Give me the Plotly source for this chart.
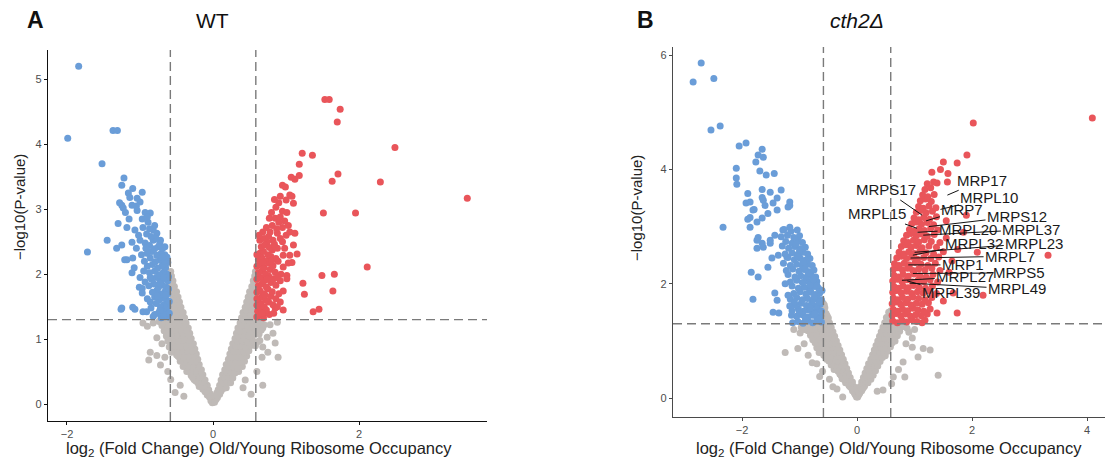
import plotly.graph_objects as go

# ---------------- Panel A (WT) ----------------
A_grey_neg = [(-0.01,0.02),(-0.03,0.05),(-0.02,0.09),(-0.05,0.11),(-0.04,0.16),(-0.08,0.14),(-0.11,0.19),(-0.06,0.22),(-0.1,0.24),(-0.14,0.23),
(-0.08,0.29),(-0.13,0.31),(-0.17,0.3),(-0.21,0.33),(-0.11,0.37),(-0.16,0.39),(-0.21,0.4),(-0.26,0.38),(-0.14,0.45),(-0.19,0.47),(-0.25,0.46),(-0.3,0.44),
(-0.16,0.53),(-0.22,0.55),(-0.28,0.54),(-0.34,0.52),(-0.19,0.61),(-0.25,0.63),(-0.31,0.62),(-0.38,0.6),(-0.21,0.69),(-0.28,0.71),(-0.35,0.7),(-0.42,0.68),(-0.47,0.73),
(-0.23,0.77),(-0.3,0.79),(-0.37,0.78),(-0.44,0.8),(-0.5,0.76),(-0.25,0.85),(-0.32,0.87),(-0.39,0.86),(-0.46,0.88),(-0.53,0.84),(-0.27,0.93),(-0.34,0.95),(-0.41,0.94),(-0.48,0.96),(-0.56,0.92),
(-0.3,1.01),(-0.37,1.03),(-0.44,1.02),(-0.51,1.04),(-0.58,1.0),(-0.64,1.05),(-0.32,1.09),(-0.39,1.11),(-0.46,1.1),(-0.53,1.12),(-0.6,1.08),(-0.67,1.13),
(-0.34,1.17),(-0.41,1.19),(-0.48,1.18),(-0.55,1.2),(-0.62,1.16),(-0.7,1.21),(-0.37,1.25),(-0.44,1.27),(-0.51,1.26),(-0.58,1.28),(-0.66,1.24),(-0.74,1.27),(-0.82,1.25),
(-0.39,1.33),(-0.46,1.35),(-0.53,1.34),(-0.57,1.38),(-0.41,1.41),(-0.48,1.43),(-0.55,1.42),(-0.44,1.49),(-0.5,1.51),(-0.56,1.5),(-0.46,1.57),(-0.52,1.59),(-0.57,1.58),
(-0.48,1.65),(-0.54,1.67),(-0.5,1.73),(-0.56,1.75),(-0.53,1.81),(-0.57,1.84),(-0.55,1.9),(-0.57,1.97),(-0.58,2.04),
(-0.86,0.8),(-0.77,0.75),(-0.66,0.72),(-0.55,0.95),(-0.77,1.02),(-0.96,1.25),(-0.45,0.29),(-0.88,0.68),(-0.62,0.5),(-0.58,0.38),(-0.7,0.93),(-0.9,1.2),(-0.52,0.18),(-0.4,0.12),(-0.72,0.6),
(-0.05,0.13),(-0.09,0.2),(-0.12,0.27),(-0.19,0.27),(-0.14,0.34),(-0.2,0.35),(-0.24,0.36),(-0.17,0.42),(-0.23,0.42),(-0.28,0.41),(-0.19,0.5),(-0.25,0.5),(-0.31,0.49),(-0.36,0.5),
(-0.22,0.58),(-0.28,0.58),(-0.35,0.57),(-0.41,0.58),(-0.25,0.66),(-0.32,0.66),(-0.39,0.65),(-0.45,0.66),(-0.27,0.74),(-0.34,0.74),(-0.41,0.73),(-0.48,0.74),
(-0.29,0.82),(-0.36,0.82),(-0.43,0.81),(-0.5,0.82),(-0.57,0.8),(-0.31,0.9),(-0.38,0.9),(-0.45,0.89),(-0.52,0.9),(-0.6,0.88),(-0.33,0.98),(-0.41,0.98),(-0.48,0.97),(-0.55,0.98),(-0.62,0.97),
(-0.35,1.06),(-0.43,1.06),(-0.5,1.05),(-0.57,1.06),(-0.64,1.1),(-0.37,1.14),(-0.45,1.14),(-0.52,1.14),(-0.59,1.14),(-0.66,1.18),(-0.4,1.22),(-0.47,1.22),(-0.55,1.22),(-0.62,1.22),(-0.7,1.24),
(-0.42,1.3),(-0.5,1.3),(-0.56,1.31),(-0.44,1.38),(-0.51,1.39),(-0.46,1.46),(-0.53,1.46),(-0.48,1.54),(-0.54,1.54),(-0.5,1.62),(-0.55,1.62),(-0.52,1.7),(-0.57,1.71),(-0.54,1.78),(-0.56,1.86),(-0.58,1.93),(-0.59,2.0)]

A_grey_pos = [(0.02,0.03),(0.04,0.07),(0.03,0.12),(0.06,0.1),(0.05,0.17),(0.09,0.15),(0.07,0.22),(0.11,0.2),(0.14,0.24),(0.09,0.29),(0.13,0.31),(0.17,0.28),
(0.11,0.37),(0.16,0.39),(0.21,0.36),(0.13,0.45),(0.19,0.47),(0.24,0.44),(0.16,0.53),(0.22,0.55),(0.28,0.52),(0.18,0.61),(0.25,0.63),(0.31,0.6),
(0.21,0.69),(0.28,0.71),(0.34,0.68),(0.23,0.77),(0.3,0.79),(0.37,0.76),(0.42,0.8),(0.25,0.85),(0.32,0.87),(0.39,0.84),(0.45,0.88),(0.27,0.93),(0.34,0.95),(0.41,0.92),(0.48,0.96),
(0.3,1.01),(0.37,1.03),(0.44,1.0),(0.51,1.04),(0.32,1.09),(0.39,1.11),(0.46,1.08),(0.53,1.12),(0.34,1.17),(0.41,1.19),(0.48,1.16),(0.55,1.2),(0.62,1.18),
(0.37,1.25),(0.44,1.27),(0.51,1.24),(0.58,1.28),(0.66,1.26),(0.39,1.33),(0.46,1.35),(0.53,1.32),(0.57,1.4),(0.41,1.41),(0.48,1.43),(0.55,1.46),
(0.44,1.49),(0.5,1.51),(0.56,1.55),(0.46,1.57),(0.52,1.6),(0.57,1.63),(0.48,1.65),(0.54,1.68),(0.5,1.73),(0.56,1.76),(0.53,1.81),(0.57,1.85),(0.55,1.9),(0.57,1.97),(0.58,2.04),
(0.88,1.26),(0.78,1.22),(0.68,1.17),(0.82,1.09),(0.74,1.03),(0.64,0.98),(0.85,0.94),(0.68,0.88),(0.75,0.8),(0.89,0.72),(0.67,0.72),(0.68,0.29),(0.44,0.37),(0.41,0.25),(0.6,0.5),(0.52,0.15),
(0.05,0.14),(0.09,0.19),(0.12,0.26),(0.18,0.25),(0.14,0.33),(0.19,0.34),(0.24,0.33),(0.16,0.41),(0.22,0.41),(0.27,0.4),(0.19,0.49),(0.25,0.49),(0.3,0.48),(0.35,0.5),
(0.22,0.57),(0.28,0.57),(0.34,0.56),(0.4,0.58),(0.24,0.65),(0.31,0.65),(0.37,0.64),(0.43,0.66),(0.26,0.73),(0.33,0.73),(0.4,0.72),(0.46,0.74),
(0.28,0.81),(0.35,0.81),(0.42,0.8),(0.49,0.82),(0.31,0.89),(0.38,0.89),(0.44,0.88),(0.51,0.9),(0.58,0.9),(0.33,0.97),(0.4,0.97),(0.47,0.96),(0.54,0.98),(0.61,0.96),
(0.35,1.05),(0.42,1.05),(0.49,1.04),(0.56,1.06),(0.63,1.08),(0.37,1.13),(0.44,1.13),(0.51,1.12),(0.58,1.14),(0.66,1.14),(0.4,1.21),(0.47,1.21),(0.54,1.2),(0.61,1.22),(0.7,1.22),
(0.42,1.29),(0.49,1.29),(0.55,1.3),(0.44,1.37),(0.51,1.38),(0.46,1.45),(0.53,1.46),(0.48,1.53),(0.54,1.53),(0.5,1.61),(0.55,1.62),(0.52,1.69),(0.57,1.7),(0.54,1.77),(0.56,1.85),(0.58,1.92),(0.59,2.0)]

A_blue = [(-1.84,5.2),(-1.99,4.09),(-1.37,4.21),(-1.31,4.21),(-1.52,3.7),(-1.22,3.48),(-1.25,3.37),(-1.1,3.32),(-0.97,3.26),(-1.16,3.25),(-1.14,3.18),(-1.04,3.17),
(-1.0,3.11),(-1.25,3.06),(-1.11,3.06),(-1.23,3.02),(-1.04,2.98),(-0.93,2.95),(-0.86,2.94),(-0.89,2.8),(-1.3,2.78),(-1.18,2.72),(-1.07,2.68),(-0.96,2.72),(-0.82,2.68),(-0.77,2.63),
(-1.45,2.52),(-1.72,2.34),(-1.32,2.4),(-1.25,2.45),(-1.11,2.49),(-1.0,2.52),(-0.93,2.48),(-0.82,2.52),(-0.73,2.48),(-0.66,2.42),(-1.21,2.22),(-1.1,2.25),(-1.0,1.95),(-0.97,1.78),
(-1.25,1.48),(-1.1,1.49),(-1.07,1.46),(-0.96,1.42),(-0.86,1.57),(-1.18,2.22),(-0.97,1.71),(-1.01,1.8),(-1.11,2.02),(-1.26,1.46),
(-0.62,1.34),(-0.66,1.36),(-0.71,1.33),(-0.64,1.42),(-0.69,1.45),(-0.75,1.4),(-0.8,1.38),(-0.62,1.5),(-0.67,1.53),(-0.72,1.5),(-0.78,1.55),(-0.85,1.48),
(-0.63,1.6),(-0.68,1.63),(-0.74,1.6),(-0.8,1.65),(-0.9,1.62),(-0.62,1.7),(-0.66,1.73),(-0.71,1.69),(-0.77,1.75),(-0.83,1.72),(-0.64,1.8),(-0.69,1.83),(-0.75,1.79),(-0.81,1.85),(-0.88,1.82),
(-0.62,1.9),(-0.67,1.93),(-0.72,1.9),(-0.78,1.95),(-0.84,1.92),(-0.93,1.88),(-0.63,2.0),(-0.68,2.03),(-0.74,1.99),(-0.8,2.05),(-0.87,2.02),(-0.65,2.1),(-0.7,2.13),(-0.76,2.09),(-0.83,2.15),(-0.9,2.12),
(-0.62,2.18),(-0.67,2.2),(-0.73,2.22),(-0.79,2.19),(-0.86,2.25),(-0.94,2.2),(-0.66,2.3),(-0.71,2.32),(-0.77,2.29),(-0.84,2.35),(-0.9,2.32),(-0.69,2.4),(-0.75,2.42),(-0.8,2.39),(-0.87,2.44),
(-0.72,2.52),(-0.78,2.55),(-0.85,2.58),(-0.91,2.62),(-0.8,2.75),(-0.87,2.7),(-0.6,1.4),(-0.6,1.58),(-0.61,1.77),(-0.61,1.96),(-0.63,2.26),(-0.68,1.38),(-0.73,1.44),(-0.76,1.66),(-0.86,1.95),
(-0.92,2.4),(-0.98,2.3),(-1.02,2.6),(-0.97,2.85),(-1.05,2.4),(-0.95,2.05),(-1.08,2.1),(-0.82,1.35),(-0.91,1.42),(-0.73,1.86),(-0.7,2.26),(-1.15,2.85),(-1.2,2.95),(-1.28,3.1),(-1.05,3.05),(-0.9,2.88),(-0.68,1.95),(-0.65,1.68)]

A_red = [(1.53,4.69),(1.59,4.69),(1.74,4.54),(1.7,4.34),(2.49,3.95),(1.22,3.86),(1.36,3.83),(1.18,3.69),(1.71,3.54),(1.63,3.43),(2.29,3.42),(3.48,3.17),(1.07,3.49),(1.12,3.46),(1.18,3.52),
(0.95,3.37),(0.99,3.34),(0.92,3.2),(1.05,3.22),(1.08,3.2),(1.0,3.14),(1.1,3.09),(0.86,3.03),(0.95,2.97),(1.01,2.95),(1.51,2.94),(1.95,2.94),(1.12,2.63),(0.96,2.29),(1.05,2.29),(1.15,2.31),(1.08,2.18),
(2.11,2.11),(1.49,1.98),(1.66,2.0),(1.01,1.98),(1.23,1.86),(1.25,1.69),(1.64,1.74),(0.96,1.74),(1.37,1.42),(1.45,1.46),(0.92,1.57),(0.96,1.45),(0.85,1.48),(0.77,2.86),(0.85,2.86),(0.92,2.88),
(0.81,2.75),(0.95,2.72),(1.03,2.75),(0.68,2.65),(0.78,2.65),(0.88,2.63),(0.64,2.52),(0.74,2.49),(0.82,2.52),(0.92,2.55),(1.03,2.17),(0.96,2.11),(0.92,1.9),(1.01,1.93),
(0.6,1.34),(0.64,1.37),(0.69,1.33),(0.61,1.43),(0.66,1.46),(0.71,1.41),(0.77,1.38),(0.6,1.52),(0.65,1.55),(0.7,1.5),(0.76,1.57),(0.82,1.53),(0.62,1.62),(0.67,1.65),(0.72,1.6),(0.79,1.66),(0.86,1.62),
(0.6,1.72),(0.64,1.75),(0.69,1.7),(0.75,1.77),(0.81,1.73),(0.62,1.82),(0.67,1.85),(0.73,1.8),(0.79,1.87),(0.86,1.83),(0.6,1.92),(0.65,1.95),(0.7,1.9),(0.76,1.97),(0.83,1.93),
(0.62,2.02),(0.67,2.05),(0.72,2.0),(0.78,2.07),(0.85,2.03),(0.6,2.12),(0.65,2.15),(0.7,2.1),(0.76,2.17),(0.82,2.13),(0.89,2.2),(0.62,2.22),(0.67,2.25),(0.73,2.2),(0.79,2.27),(0.86,2.24),
(0.64,2.32),(0.69,2.35),(0.75,2.3),(0.81,2.37),(0.88,2.4),(0.66,2.42),(0.71,2.45),(0.77,2.41),(0.84,2.46),(0.7,2.55),(0.76,2.58),(0.87,2.7),(0.73,2.72),(0.8,2.95),(0.9,3.1),(0.84,3.15),
(0.6,1.62),(0.6,2.3),(0.63,2.6),(0.73,1.45),(0.9,1.7),(0.93,2.0),(0.98,2.4),(1.0,2.6),(0.95,2.5),(0.88,1.95),(0.83,1.4),(0.74,1.92),(0.68,2.18),(0.8,2.2),(1.1,2.45),(1.05,2.65),(0.98,2.82),(0.9,2.8),(0.67,1.4),(0.71,1.68),(0.88,1.5)]

# ---------------- Panel B (cth2Δ) ----------------
B_grey_neg = [(-0.01,0.02),(-0.03,0.06),(-0.05,0.1),(-0.02,0.12),(-0.07,0.15),(-0.1,0.18),(-0.05,0.2),(-0.09,0.24),(-0.14,0.22),(-0.08,0.28),(-0.13,0.3),(-0.18,0.29),(-0.22,0.32),
(-0.12,0.36),(-0.17,0.38),(-0.23,0.37),(-0.28,0.4),(-0.15,0.44),(-0.21,0.46),(-0.27,0.45),(-0.33,0.47),(-0.18,0.52),(-0.24,0.54),(-0.31,0.53),(-0.38,0.55),
(-0.21,0.6),(-0.28,0.62),(-0.35,0.61),(-0.42,0.63),(-0.24,0.68),(-0.31,0.7),(-0.38,0.69),(-0.46,0.71),(-0.53,0.68),(-0.27,0.76),(-0.35,0.78),(-0.42,0.77),(-0.5,0.79),(-0.58,0.75),
(-0.3,0.84),(-0.38,0.86),(-0.46,0.85),(-0.54,0.87),(-0.62,0.83),(-0.33,0.92),(-0.41,0.94),(-0.49,0.93),(-0.57,0.95),(-0.66,0.91),(-0.36,1.0),(-0.44,1.02),(-0.52,1.01),(-0.6,1.03),(-0.69,0.99),(-0.77,1.02),
(-0.39,1.08),(-0.47,1.1),(-0.55,1.09),(-0.63,1.11),(-0.72,1.07),(-0.81,1.1),(-0.42,1.16),(-0.5,1.18),(-0.58,1.17),(-0.66,1.19),(-0.75,1.15),(-0.85,1.18),
(-0.45,1.24),(-0.53,1.26),(-0.61,1.25),(-0.69,1.27),(-0.78,1.23),(-0.88,1.26),(-0.97,1.24),(-0.48,1.32),(-0.55,1.35),(-0.58,1.42),(-0.5,1.4),(-0.54,1.48),(-0.58,1.55),(-0.57,1.63),(-0.59,1.66),(-0.52,1.44),
(-1.25,0.8),(-1.03,0.87),(-0.99,1.14),(-0.87,1.19),(-0.85,0.75),(-0.7,0.6),(-0.6,0.47),(-0.48,0.33),(-0.35,0.16),(-0.25,0.02),(-1.1,1.2),(-0.92,0.95),(-0.78,0.62),(-0.65,0.38),(-0.42,0.2),
(-0.04,0.08),(-0.08,0.13),(-0.07,0.18),(-0.12,0.2),(-0.11,0.26),(-0.16,0.26),(-0.2,0.27),(-0.14,0.33),(-0.2,0.34),(-0.26,0.34),(-0.18,0.41),(-0.24,0.41),(-0.3,0.42),
(-0.21,0.49),(-0.27,0.49),(-0.34,0.5),(-0.4,0.5),(-0.24,0.57),(-0.31,0.57),(-0.38,0.58),(-0.45,0.58),(-0.27,0.65),(-0.34,0.65),(-0.42,0.66),(-0.49,0.65),
(-0.3,0.73),(-0.38,0.73),(-0.46,0.74),(-0.54,0.72),(-0.33,0.81),(-0.41,0.81),(-0.5,0.82),(-0.58,0.8),(-0.66,0.8),(-0.36,0.89),(-0.45,0.89),(-0.53,0.9),(-0.62,0.88),(-0.7,0.88),
(-0.4,0.97),(-0.48,0.97),(-0.56,0.98),(-0.65,0.96),(-0.73,0.97),(-0.43,1.05),(-0.51,1.05),(-0.59,1.06),(-0.68,1.04),(-0.77,1.06),(-0.46,1.13),(-0.54,1.13),(-0.62,1.14),(-0.71,1.12),(-0.8,1.14),
(-0.49,1.21),(-0.57,1.21),(-0.65,1.22),(-0.74,1.2),(-0.83,1.21),(-0.92,1.2),(-0.52,1.29),(-0.6,1.29),(-0.68,1.3),(-0.77,1.29),(-0.86,1.3),(-0.53,1.37),(-0.57,1.5),(-0.56,1.58)]

B_grey_pos = [(0.01,0.02),(0.03,0.06),(0.05,0.1),(0.02,0.12),(0.07,0.15),(0.1,0.17),(0.05,0.2),(0.09,0.23),(0.13,0.21),(0.08,0.28),(0.12,0.3),(0.17,0.27),(0.11,0.36),(0.16,0.38),(0.21,0.35),
(0.14,0.44),(0.2,0.46),(0.26,0.43),(0.17,0.52),(0.23,0.54),(0.3,0.51),(0.2,0.6),(0.27,0.62),(0.34,0.59),(0.24,0.68),(0.31,0.7),(0.38,0.67),(0.44,0.71),
(0.27,0.76),(0.34,0.78),(0.41,0.75),(0.48,0.79),(0.3,0.84),(0.37,0.86),(0.44,0.83),(0.52,0.87),(0.33,0.92),(0.4,0.94),(0.47,0.91),(0.55,0.95),
(0.36,1.0),(0.43,1.02),(0.5,0.99),(0.58,1.03),(0.66,1.0),(0.39,1.08),(0.46,1.1),(0.53,1.07),(0.61,1.11),(0.7,1.09),(0.42,1.16),(0.49,1.18),(0.56,1.15),(0.64,1.19),(0.74,1.17),
(0.45,1.24),(0.52,1.26),(0.59,1.23),(0.67,1.27),(0.78,1.25),(0.87,1.22),(0.48,1.32),(0.55,1.35),(0.51,1.41),(0.57,1.44),(0.55,1.5),(0.59,1.53),(0.58,1.38),
(1.41,0.4),(1.27,0.84),(1.15,0.87),(1.06,0.72),(0.96,0.89),(0.96,1.05),(0.8,0.63),(0.83,0.37),(0.63,0.37),(0.45,0.14),(0.9,1.15),(0.72,0.5),(0.6,0.25),(0.35,0.12),(0.85,0.95),(1.0,1.2),
(0.04,0.08),(0.08,0.13),(0.07,0.18),(0.12,0.2),(0.11,0.26),(0.15,0.26),(0.19,0.27),(0.14,0.33),(0.19,0.34),(0.24,0.33),(0.17,0.41),(0.23,0.41),(0.28,0.4),
(0.2,0.49),(0.26,0.49),(0.32,0.48),(0.23,0.57),(0.3,0.57),(0.36,0.56),(0.26,0.65),(0.33,0.65),(0.4,0.64),(0.29,0.73),(0.36,0.73),(0.43,0.72),(0.49,0.74),
(0.32,0.81),(0.39,0.81),(0.46,0.8),(0.53,0.82),(0.35,0.89),(0.42,0.89),(0.5,0.88),(0.58,0.9),(0.38,0.97),(0.45,0.97),(0.53,0.96),(0.61,0.97),
(0.41,1.05),(0.48,1.05),(0.56,1.04),(0.64,1.06),(0.44,1.13),(0.51,1.13),(0.59,1.12),(0.67,1.14),(0.47,1.21),(0.54,1.21),(0.62,1.2),(0.71,1.22),
(0.5,1.29),(0.57,1.29),(0.64,1.3),(0.73,1.3),(0.53,1.37),(0.55,1.42),(0.57,1.47)]

B_blue = [(-2.71,5.86),(-2.85,5.53),(-2.49,5.59),(-2.54,4.69),(-2.38,4.76),(-2.05,4.41),(-1.93,4.46),(-1.65,4.35),(-1.72,4.25),(-1.63,4.21),(-1.76,4.13),(-2.1,4.02),(-1.69,3.97),(-1.58,3.9),(-1.44,3.93),
(-2.1,3.85),(-2.09,3.74),(-1.65,3.65),(-1.32,3.64),(-1.9,3.58),(-1.51,3.6),(-1.93,3.41),(-1.79,3.3),(-1.63,3.46),(-1.46,3.41),(-1.17,3.37),(-1.86,3.43),(-1.65,3.51),(-1.6,3.37),(-1.39,3.5),
(-2.33,2.99),(-1.86,3.16),(-1.86,2.99),(-1.9,3.13),(-1.81,3.29),(-1.74,3.08),(-1.65,3.15),(-1.55,3.23),(-1.39,3.29),(-1.2,3.34),(-1.17,3.43),
(-1.72,2.81),(-1.65,2.71),(-1.74,2.62),(-1.51,2.71),(-1.43,2.85),(-1.29,2.94),(-1.17,2.99),(-1.04,2.94),(-1.84,2.2),(-1.72,2.12),(-1.81,1.73),(-1.55,2.29),(-1.43,1.84),(-1.39,1.71),(-1.46,1.5),(-1.36,1.49),
(-1.48,2.45),(-1.37,2.5),(-1.22,2.47),(-1.74,2.76),(-1.63,2.64),(-1.51,2.76),
(-0.62,1.33),(-0.69,1.36),(-0.77,1.32),(-0.85,1.35),(-0.94,1.31),(-1.03,1.34),(-1.12,1.32),(-0.63,1.44),(-0.7,1.41),(-0.78,1.45),(-0.86,1.42),(-0.95,1.46),(-1.05,1.43),(-1.14,1.45),
(-0.62,1.52),(-0.68,1.55),(-0.76,1.51),(-0.84,1.54),(-0.93,1.52),(-1.02,1.56),(-1.13,1.53),(-0.64,1.64),(-0.71,1.61),(-0.79,1.65),(-0.88,1.62),(-0.97,1.66),(-1.07,1.63),(-1.17,1.61),
(-0.62,1.72),(-0.69,1.75),(-0.77,1.71),(-0.86,1.74),(-0.95,1.72),(-1.05,1.76),(-1.16,1.73),(-0.65,1.84),(-0.72,1.81),(-0.8,1.85),(-0.89,1.82),(-0.99,1.86),(-1.1,1.83),(-1.2,1.8),
(-0.67,1.92),(-0.75,1.95),(-0.83,1.91),(-0.92,1.94),(-1.02,1.92),(-1.13,1.96),(-0.7,2.04),(-0.77,2.01),(-0.86,2.05),(-0.95,2.02),(-1.05,2.06),(-1.16,2.03),(-1.25,2.0),
(-0.72,2.12),(-0.8,2.15),(-0.89,2.11),(-0.98,2.14),(-1.08,2.12),(-1.2,2.16),(-0.75,2.24),(-0.83,2.21),(-0.92,2.25),(-1.01,2.22),(-1.12,2.26),(-1.23,2.23),
(-0.78,2.32),(-0.86,2.35),(-0.95,2.31),(-1.05,2.34),(-1.16,2.32),(-1.28,2.36),(-0.82,2.44),(-0.9,2.41),(-0.99,2.45),(-1.09,2.42),(-1.2,2.46),
(-0.86,2.52),(-0.94,2.55),(-1.03,2.51),(-1.13,2.54),(-1.25,2.52),(-0.9,2.64),(-0.98,2.61),(-1.08,2.65),(-1.19,2.62),(-1.3,2.66),(-0.95,2.72),(-1.03,2.75),(-1.13,2.71),(-1.24,2.74),
(-1.0,2.84),(-1.1,2.81),(-1.21,2.85),(-1.32,2.82),(-0.66,1.38),(-0.73,1.48),(-0.81,1.58),(-0.66,1.68),(-0.74,1.78),(-0.61,1.88),(-0.7,1.97),(-0.82,1.98),(-0.76,2.08),(-0.85,2.18),
(-0.9,2.28),(-0.94,2.38),(-1.04,2.48),(-1.0,2.58),(-1.06,2.7),(-1.15,2.92),(-1.27,2.95),(-0.9,1.4),(-1.0,1.5),(-1.09,1.68)]

B_red = [(0.62,1.35),(0.7,1.32),(0.78,1.36),(0.86,1.33),(0.95,1.37),(1.04,1.34),(1.13,1.32),(0.61,1.45),(0.68,1.48),(0.76,1.44),(0.84,1.47),(0.93,1.43),(1.02,1.46),(1.12,1.44),(1.22,1.47),
(0.63,1.55),(0.71,1.52),(0.79,1.56),(0.88,1.53),(0.97,1.57),(1.06,1.54),(1.16,1.52),(1.27,1.56),(0.61,1.65),(0.68,1.68),(0.76,1.64),(0.85,1.67),(0.94,1.63),(1.03,1.66),(1.13,1.64),(1.24,1.67),
(0.63,1.75),(0.71,1.72),(0.79,1.76),(0.88,1.73),(0.97,1.77),(1.07,1.74),(1.18,1.72),(1.3,1.76),(0.62,1.85),(0.69,1.88),(0.77,1.84),(0.86,1.87),(0.95,1.83),(1.05,1.86),(1.15,1.84),(1.26,1.87),(1.38,1.83),
(0.64,1.95),(0.72,1.92),(0.8,1.96),(0.89,1.93),(0.98,1.97),(1.08,1.94),(1.19,1.92),(1.31,1.96),(0.62,2.05),(0.7,2.08),(0.78,2.04),(0.87,2.07),(0.96,2.03),(1.06,2.06),(1.16,2.04),(1.27,2.07),(1.4,2.03),
(0.64,2.15),(0.72,2.12),(0.8,2.16),(0.89,2.13),(0.99,2.17),(1.09,2.14),(1.2,2.12),(1.32,2.16),(0.63,2.25),(0.71,2.28),(0.79,2.24),(0.88,2.27),(0.97,2.23),(1.07,2.26),(1.18,2.24),(1.3,2.27),(1.44,2.23),
(0.65,2.35),(0.73,2.32),(0.82,2.36),(0.91,2.33),(1.01,2.37),(1.11,2.34),(1.23,2.32),(1.36,2.36),(0.69,2.45),(0.77,2.48),(0.86,2.44),(0.95,2.47),(1.05,2.43),(1.16,2.46),(1.28,2.44),(1.42,2.47),
(0.73,2.55),(0.81,2.52),(0.9,2.56),(0.99,2.53),(1.09,2.57),(1.2,2.54),(1.33,2.52),(1.5,2.56),(0.77,2.65),(0.85,2.68),(0.94,2.64),(1.03,2.67),(1.13,2.63),(1.25,2.66),(1.38,2.64),
(0.81,2.75),(0.89,2.72),(0.98,2.76),(1.07,2.73),(1.17,2.77),(1.29,2.74),(1.44,2.72),(0.86,2.85),(0.94,2.88),(1.03,2.84),(1.12,2.87),(1.22,2.83),(1.34,2.86),
(0.91,2.95),(0.99,2.92),(1.08,2.96),(1.17,2.93),(1.28,2.97),(1.4,2.94),(0.95,3.05),(1.03,3.08),(1.12,3.04),(1.22,3.07),(1.33,3.03),(0.99,3.15),(1.07,3.12),(1.16,3.16),(1.26,3.13),(1.38,3.17),
(1.03,3.25),(1.11,3.28),(1.2,3.24),(1.31,3.27),(1.07,3.35),(1.15,3.32),(1.25,3.36),(1.37,3.33),(1.1,3.45),(1.19,3.48),(1.29,3.44),(1.14,3.55),(1.23,3.52),(1.34,3.56),(1.18,3.65),(1.28,3.68),(1.22,3.75),(1.33,3.78),
(2.02,4.81),(4.09,4.9),(1.91,4.25),(1.5,4.13),(1.74,4.11),(1.58,3.93),(1.39,3.76),(1.57,3.78),(2.09,2.55),(3.32,2.5),(1.67,1.84),(1.74,1.49),(1.39,1.49),(1.18,1.36),(2.19,1.8),
(1.6,2.2),(1.75,2.6),(1.85,2.9),(1.55,3.1),(1.65,2.4),(1.5,1.7),(1.3,3.95),(1.45,4.0),(1.9,3.2),(1.55,2.8)]

B_labels = ["MRP17","MRPL10","MRPS17","MRPL15","MRP7","MRPS12","MRPL20","MRPL37",
            "MRPL32","MRPL23","MRPL7","MRP1","MRPS5","MRPL27","MRPL49","MRPL39"]
B_label_pts = [(1.57,3.55),(1.45,3.3),(1.13,3.2),(1.04,2.97),(1.2,3.1),(1.25,3.0),(1.05,2.9),(1.15,2.85),
               (0.97,2.5),(1.0,2.55),(0.93,2.45),(0.89,2.33),(0.97,2.18),(0.78,2.06),(0.92,2.01),(0.87,2.05)]
B_label_txt = [(2.17,3.81),(2.3,3.51),(0.5,3.64),(0.35,3.22),(1.83,3.29),(2.78,3.18),(1.93,2.95),(3.03,2.95),
               (2.03,2.71),(3.08,2.71),(2.66,2.48),(1.84,2.33),(2.82,2.19),(1.88,2.12),(2.78,1.91),(1.63,1.84)]

FC_CUT = 0.585
P_CUT = 1.301

GREY = "#bfbab7"
BLUE = "#6a9dd8"
RED = "#e9555a"
FONT = "Liberation Sans, Arial, sans-serif"
W, H = 1106, 464

fig = go.Figure()

def add_pts(pts, col, xa, ya, size):
    fig.add_trace(go.Scatter(x=[p[0] for p in pts], y=[p[1] for p in pts], mode="markers",
                             marker=dict(size=size, color=col, line=dict(width=0)),
                             xaxis=xa, yaxis=ya, showlegend=False, hoverinfo="skip"))

for pts, col in [(A_grey_neg, GREY), (A_grey_pos, GREY), (A_blue, BLUE), (A_red, RED)]:
    add_pts(pts, col, "x", "y", 7)
for pts, col in [(B_grey_neg, GREY), (B_grey_pos, GREY), (B_blue, BLUE), (B_red, RED)]:
    add_pts(pts, col, "x2", "y2", 7)

tickfont = dict(family=FONT, size=11, color="#4d4d4d")
ax_common = dict(showgrid=False, zeroline=False, showline=True, ticks="outside", ticklen=3,
                 tickfont=tickfont, fixedrange=True)

fig.update_layout(
    width=W, height=H, margin=dict(l=0, r=0, t=0, b=0),
    paper_bgcolor="white", plot_bgcolor="white", showlegend=False,
    xaxis=dict(domain=[48/W, 487/W], range=[-2.26, 3.75], tickvals=[-2, 0, 2], anchor="y",
               linecolor="#111", linewidth=1.3, tickcolor="#111", **ax_common),
    yaxis=dict(domain=[1-421/H, 1-50/H], range=[-0.26, 5.45], tickvals=[0, 1, 2, 3, 4, 5], anchor="x",
               linecolor="#111", linewidth=1.3, tickcolor="#111", **ax_common),
    xaxis2=dict(domain=[673/W, 1105/W], range=[-3.2, 4.31], tickvals=[-2, 0, 2, 4], anchor="y2",
                linecolor="#4a4a4a", linewidth=1.3, tickcolor="#4a4a4a", **ax_common),
    yaxis2=dict(domain=[1-417/H, 1-47/H], range=[-0.33, 6.14], tickvals=[0, 2, 4, 6], anchor="x2",
                linecolor="#4a4a4a", linewidth=1.3, tickcolor="#4a4a4a", **ax_common),
)

dash = dict(color="#7a7a7a", width=1.4, dash="9px,5px")
for xa, ya in [("x", "y"), ("x2", "y2")]:
    for v in (-FC_CUT, FC_CUT):
        fig.add_shape(type="line", xref=xa, yref=ya + " domain", x0=v, x1=v, y0=0, y1=1, line=dash, layer="above")
    fig.add_shape(type="line", xref=xa + " domain", yref=ya, x0=0, x1=1, y0=P_CUT, y1=P_CUT, line=dash, layer="above")

# gene labels in panel B
for name, (px, py), (tx, ty) in zip(B_labels, B_label_pts, B_label_txt):
    fig.add_annotation(x=px, y=py, xref="x2", yref="y2", ax=tx, ay=ty, axref="x2", ayref="y2",
                       text=name, showarrow=True, arrowhead=0, arrowwidth=1, arrowcolor="#111",
                       font=dict(family=FONT, size=15, color="#1a1a1a"), standoff=0)

def paper_text(text, x, y, size, angle=0, bold=False, italic=False, color="#111"):
    t = text
    if bold:
        t = "<b>" + t + "</b>"
    if italic:
        t = "<i>" + t + "</i>"
    fig.add_annotation(x=x / W, y=1 - y / H, xref="paper", yref="paper", text=t, showarrow=False,
                       textangle=angle, xanchor="center", yanchor="middle",
                       font=dict(family=FONT, size=size, color=color))

paper_text("A", 35, 20, 23, bold=True)
paper_text("B", 645, 20, 23, bold=True)
paper_text("WT", 212, 21, 21)
paper_text("cth2Δ", 857, 21, 21, italic=True)
xt = "log<sub>2</sub> (Fold Change) Old/Young Ribosome Occupancy"
paper_text(xt, 259, 449, 16.5, color="#222")
paper_text(xt, 889, 449, 16.5, color="#222")
paper_text("−log10(P-value)", 20, 207, 15, angle=-90, color="#222")
paper_text("−log10(P-value)", 636, 208, 15, angle=-90, color="#222")

fig.write_html("out.html")
